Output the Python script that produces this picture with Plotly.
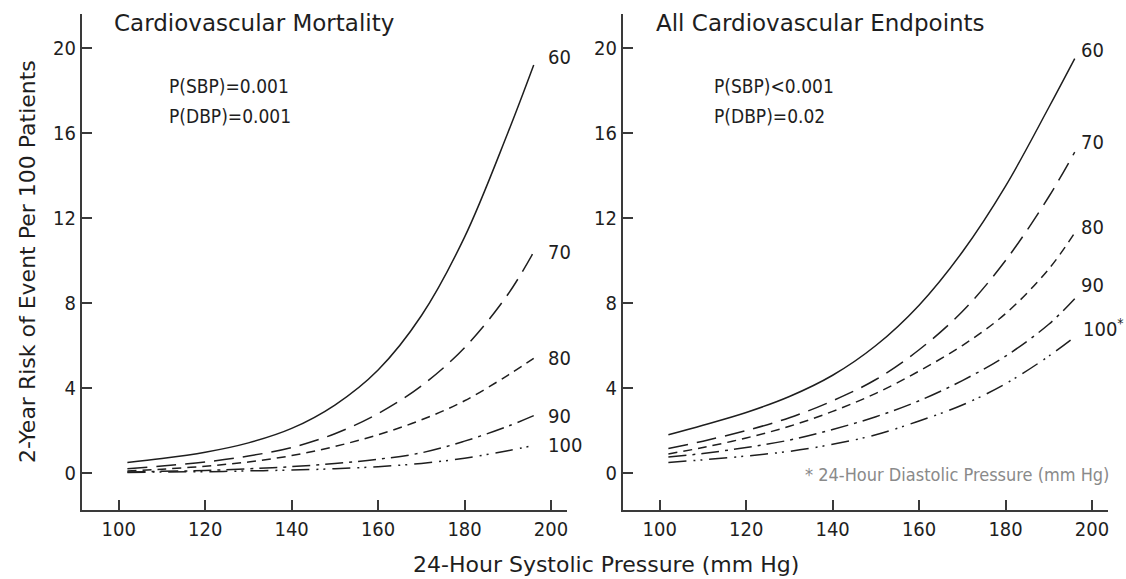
import plotly.graph_objects as go

W, H = 1126, 579

# ---------------- data ----------------
sbp = [102, 110, 120, 130, 140, 150, 160, 170, 180, 190, 196]
dbp_levels = ["60", "70", "80", "90", "100"]

mort_60 = [0.5, 0.68, 0.98, 1.42, 2.1, 3.2, 4.85, 7.4, 11.1, 16.0, 19.2]
mort_70 = [0.2, 0.33, 0.52, 0.8, 1.2, 1.85, 2.8, 4.1, 5.9, 8.4, 10.4]
mort_80 = [0.1, 0.18, 0.32, 0.52, 0.82, 1.25, 1.8, 2.5, 3.4, 4.6, 5.4]
mort_90 = [0.05, 0.08, 0.12, 0.2, 0.3, 0.45, 0.65, 0.95, 1.5, 2.2, 2.7]
mort_100 = [0.03, 0.05, 0.06, 0.1, 0.14, 0.2, 0.3, 0.45, 0.7, 1.05, 1.3]

allcv_60 = [1.8, 2.25, 2.85, 3.6, 4.6, 6.0, 7.9, 10.4, 13.5, 17.2, 19.5]
allcv_70 = [1.15, 1.5, 2.0, 2.6, 3.4, 4.4, 5.8, 7.6, 10.0, 13.0, 15.1]
allcv_80 = [0.9, 1.2, 1.65, 2.2, 2.9, 3.75, 4.8, 6.0, 7.5, 9.6, 11.3]
allcv_90 = [0.75, 0.92, 1.2, 1.55, 2.05, 2.65, 3.4, 4.35, 5.5, 7.0, 8.2]
allcv_100 = [0.5, 0.62, 0.8, 1.02, 1.35, 1.8, 2.45, 3.2, 4.2, 5.5, 6.4]

x_ticks = [100, 120, 140, 160, 180, 200]
y_ticks = [0, 4, 8, 12, 16, 20]

panel_titles = ["Cardiovascular Mortality", "All Cardiovascular Endpoints"]
p_texts = [["P(SBP)=0.001", "P(DBP)=0.001"], ["P(SBP)<0.001", "P(DBP)=0.02"]]
right_labels = ["60", "70", "80", "90", "100<sup>*</sup>"]
footnote = "* 24-Hour Diastolic Pressure (mm Hg)"
x_title = "24-Hour Systolic Pressure (mm Hg)"
y_title = "2-Year Risk of Event Per 100 Patients"

# ---------------- style ----------------
INK = "#1e1e1e"
AX = "#3a3a3a"
TITLE_FONT = "DejaVu Sans, Liberation Sans, sans-serif"
NUM_FONT = "DejaVu Sans Condensed, DejaVu Sans, sans-serif"
dashes = ["solid", "20px,9px", "9px,6px", "18px,6px,3px,6px", "18px,7px,2px,5px,2px,7px"]


def px(xp):
    return xp / W


def py(yp):
    return 1 - yp / H


fig = go.Figure()

left_series = [mort_60, mort_70, mort_80, mort_90, mort_100]
right_series = [allcv_60, allcv_70, allcv_80, allcv_90, allcv_100]

for i, ys in enumerate(left_series):
    fig.add_trace(go.Scatter(x=sbp, y=ys, mode="lines", xaxis="x", yaxis="y",
                             line=dict(color=INK, width=1.5, dash=dashes[i], shape="spline"),
                             name=dbp_levels[i], showlegend=False, hoverinfo="skip"))
for i, ys in enumerate(right_series):
    fig.add_trace(go.Scatter(x=sbp, y=ys, mode="lines", xaxis="x2", yaxis="y2",
                             line=dict(color=INK, width=1.5, dash=dashes[i], shape="spline"),
                             name=dbp_levels[i], showlegend=False, hoverinfo="skip"))

ydom = [py(510), py(14)]
xr = [91.5, 203.7]
yr = [-1.74, 21.6]

axis_common = dict(showline=True, linecolor=AX, linewidth=2, showgrid=False, zeroline=False,
                   ticks="inside", ticklen=10, tickwidth=1.5, tickcolor=AX,
                   tickfont=dict(family=NUM_FONT, size=20, color=INK))

fig.update_layout(
    width=W, height=H,
    margin=dict(l=0, r=0, t=0, b=0),
    paper_bgcolor="white", plot_bgcolor="white",
    xaxis=dict(domain=[px(82), px(567)], range=xr, tickvals=x_ticks, anchor="y", **axis_common),
    yaxis=dict(domain=ydom, range=yr, tickvals=y_ticks, anchor="x", **axis_common),
    xaxis2=dict(domain=[px(623), px(1108)], range=xr, tickvals=x_ticks, anchor="y2", **axis_common),
    yaxis2=dict(domain=ydom, range=yr, tickvals=y_ticks, anchor="x2", **axis_common),
)

ann = []
# panel titles
ann.append(dict(x=px(112), y=py(23), xref="paper", yref="paper", text=panel_titles[0],
                xanchor="left", yanchor="middle", showarrow=False,
                font=dict(family=TITLE_FONT, size=23, color=INK)))
ann.append(dict(x=px(654), y=py(23), xref="paper", yref="paper", text=panel_titles[1],
                xanchor="left", yanchor="middle", showarrow=False,
                font=dict(family=TITLE_FONT, size=23, color=INK)))
# p-values
for (xl, txts) in zip([167, 712], p_texts):
    for yy, t in zip([86, 116], txts):
        ann.append(dict(x=px(xl), y=py(yy), xref="paper", yref="paper", text=t,
                        xanchor="left", yanchor="middle", showarrow=False,
                        font=dict(family=NUM_FONT, size=19, color=INK)))
# curve labels
left_shift = [8, 0, 0, 0, 0]
for i, ys in enumerate(left_series):
    ann.append(dict(x=sbp[-1], y=ys[-1], xref="x", yref="y", text=dbp_levels[i],
                    xanchor="left", yanchor="middle", xshift=12, yshift=left_shift[i],
                    showarrow=False, font=dict(family=NUM_FONT, size=20, color=INK)))
right_shift = [9, 10, 6, 14, 9]
for i, ys in enumerate(right_series):
    ann.append(dict(x=sbp[-1], y=ys[-1], xref="x2", yref="y2", text=right_labels[i],
                    xanchor="left", yanchor="middle", xshift=4 if i < 4 else 6, yshift=right_shift[i],
                    showarrow=False, font=dict(family=NUM_FONT, size=20, color=INK)))
# footnote
ann.append(dict(x=px(1111), y=py(474), xref="paper", yref="paper", text=footnote,
                xanchor="right", yanchor="middle", showarrow=False,
                font=dict(family=NUM_FONT, size=18, color="#8a8a8a")))
# axis titles
ann.append(dict(x=px(606), y=py(564), xref="paper", yref="paper", text=x_title,
                xanchor="center", yanchor="middle", showarrow=False,
                font=dict(family=TITLE_FONT, size=22, color=INK)))
ann.append(dict(x=px(27), y=py(262), xref="paper", yref="paper", text=y_title,
                xanchor="center", yanchor="middle", showarrow=False, textangle=-90,
                font=dict(family=TITLE_FONT, size=22, color=INK)))

fig.update_layout(annotations=ann)
fig.write_html("out.html", config={"displayModeBar": False},
               post_script="document.body.style.margin='0px';")
